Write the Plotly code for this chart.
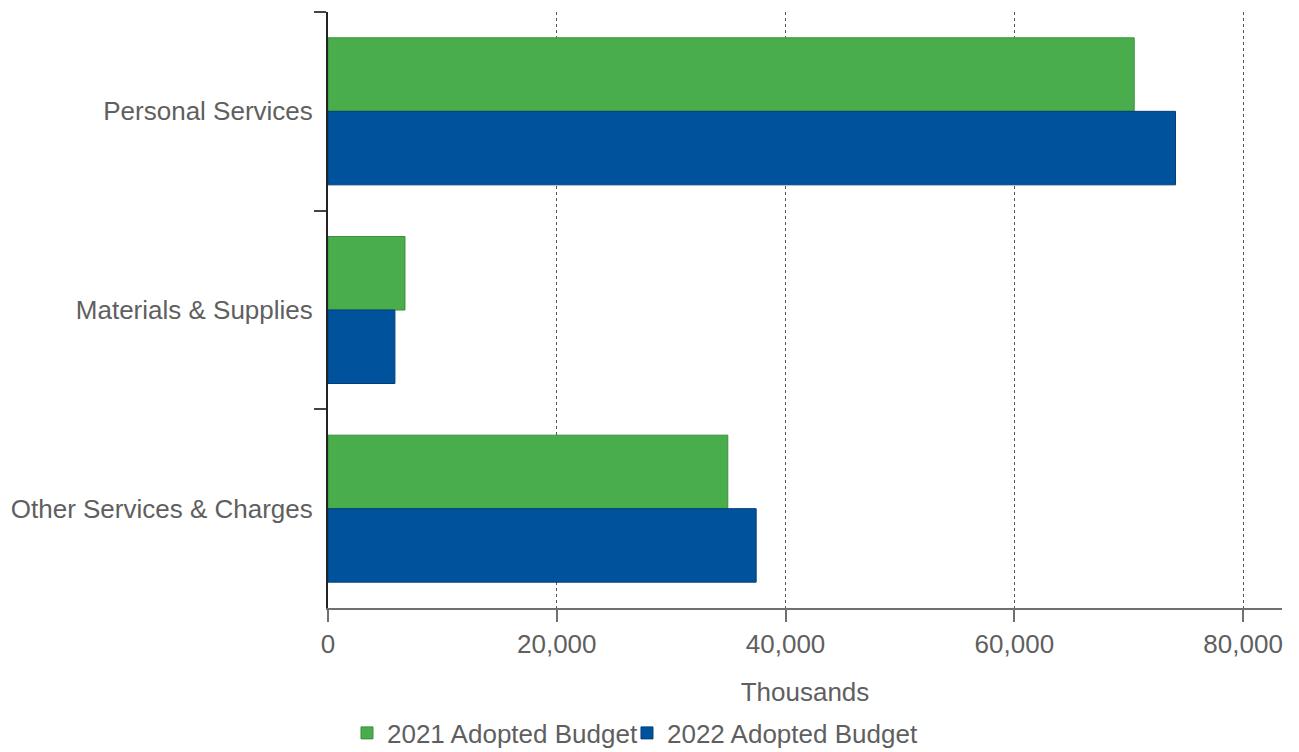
import plotly.graph_objects as go

categories = ["Personal Services", "Materials & Supplies", "Other Services & Charges"]
budget_2021 = [70480, 6730, 34950]
budget_2022 = [74090, 5850, 37430]
series_names = ["2021 Adopted Budget", "2022 Adopted Budget"]
x_ticks = [0, 20000, 40000, 60000, 80000]
x_tick_labels = ["0", "20,000", "40,000", "60,000", "80,000"]

FONT = "Liberation Sans, Arial, sans-serif"
TXT = "#5f5f5f"

fig = go.Figure()
fig.add_trace(go.Bar(y=categories, x=budget_2021, name=series_names[0], orientation="h",
                     legend="legend",
                     marker=dict(color="#4aad4c", line=dict(color="#3b8f3d", width=1))))
fig.add_trace(go.Bar(y=categories, x=budget_2022, name=series_names[1], orientation="h",
                     legend="legend2",
                     marker=dict(color="#00529c", line=dict(color="#003f7a", width=1))))

leg_common = dict(orientation="h", yanchor="middle", y=-0.2097, xanchor="left",
                  font=dict(family=FONT, size=26, color=TXT), bgcolor="rgba(0,0,0,0)")

fig.update_layout(
    width=1299, height=752,
    margin=dict(l=328, r=17, t=12, b=144, autoexpand=False),
    paper_bgcolor="white", plot_bgcolor="white",
    barmode="group", bargap=0.26, bargroupgap=0,
    font=dict(family=FONT, size=26, color=TXT),
    showlegend=True,
    legend=dict(x=0.0199, **leg_common),
    legend2=dict(x=0.3134, **leg_common),
    xaxis=dict(range=[0, 83400], tickvals=x_ticks, ticktext=x_tick_labels,
               showgrid=True, gridcolor="#555555", griddash="dot", gridwidth=1,
               zeroline=False, showline=True, linecolor="#707070", linewidth=2,
               ticks="outside", ticklen=12, tickcolor="#707070", tickwidth=2,
               tickfont=dict(family=FONT, size=26, color=TXT),
               title=dict(text="Thousands", font=dict(family=FONT, size=26, color=TXT), standoff=25)),
    yaxis=dict(autorange="reversed", categoryorder="array", categoryarray=categories,
               showgrid=False, zeroline=False, showline=True, linecolor="#222222", linewidth=2,
               ticks="outside", tickson="boundaries", ticklen=12, tickcolor="#444444", tickwidth=2,
               ticklabelstandoff=8,
               tickfont=dict(family=FONT, size=26, color=TXT)),
)

fig.write_html("out.html")
